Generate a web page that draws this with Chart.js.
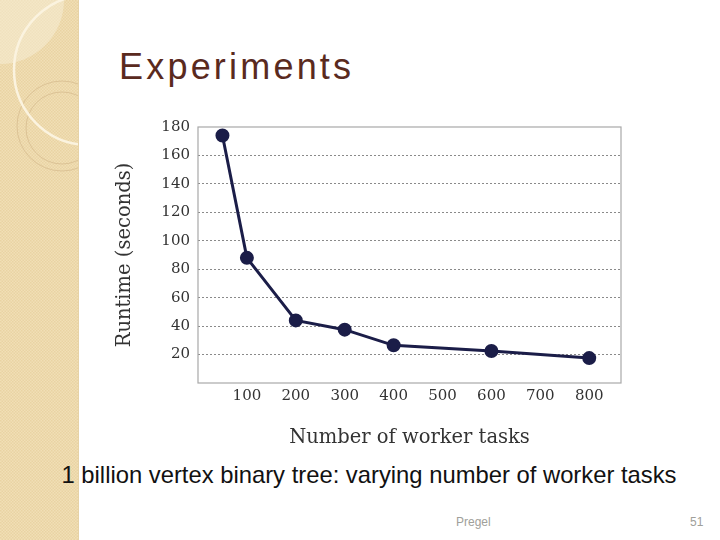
<!DOCTYPE html>
<html>
<head>
<meta charset="utf-8">
<script src="https://cdn.jsdelivr.net/npm/chart.js@4"></script>
<style>
  html, body { margin: 0; padding: 0; background: #fff; }
  #slide { position: relative; width: 720px; height: 540px; overflow: hidden; font-family: "Liberation Sans", Arial, sans-serif; }
  #deco { position: absolute; left: 0; top: 0; }
  #title { position: absolute; left: 119px; top: 46px; font-size: 36px; letter-spacing: 3.2px; color: #5a2a1e; }
  #caption { position: absolute; left: 0; width: 738px; top: 461px; text-align: center; font-size: 23.8px; color: #111; }
  .foot { position: absolute; top: 515px; font-size: 12px; color: #a0a09a; }
  #chartBox { position: absolute; left: 100px; top: 110px; width: 540px; height: 340px; }
</style>
</head>
<body>
<div id="slide">
  <svg id="deco" width="80" height="540">
    <defs>
      <pattern id="chk" width="3" height="3" patternUnits="userSpaceOnUse">
        <rect width="3" height="3" fill="#f1dfb6"/>
        <rect width="1.5" height="1.5" fill="#e9d3a3"/>
        <rect x="1.5" y="1.5" width="1.5" height="1.5" fill="#e9d3a3"/>
      </pattern>
      <clipPath id="strip"><rect width="78" height="540"/></clipPath>
    </defs>
    <rect width="78" height="540" fill="url(#chk)"/>
    <g clip-path="url(#strip)">
      <circle cx="0" cy="0" r="64" fill="#f6ecd6" fill-opacity="0.55"/>
      <circle cx="62" cy="126" r="45" fill="none" stroke="#dcc396" stroke-width="1"/>
      <circle cx="62" cy="128" r="36" fill="none" stroke="#dcc396" stroke-width="1"/>
      <circle cx="89" cy="70" r="75" fill="none" stroke="#fbf3df" stroke-width="2.5"/>
    </g>
    <line x1="78.5" y1="0" x2="78.5" y2="540" stroke="#e6d2a6" stroke-width="1"/>
  </svg>
  <div id="title">Experiments</div>
  <div id="chartBox"><canvas id="myChart" width="540" height="340"></canvas></div>
  <div id="caption">1 billion vertex binary tree: varying number of worker tasks</div>
  <div class="foot" style="left:456px">Pregel</div>
  <div class="foot" style="left:690px">51</div>
</div>
<script>
document.addEventListener("DOMContentLoaded", function () {

  // values
  const workers = [50, 100, 200, 300, 400, 600, 800];
  const runtime = [174, 88, 44, 37.5, 26.5, 22.5, 17.5];

  // tick labels
  const xTicks = [100, 200, 300, 400, 500, 600, 700, 800];
  const yTicks = [0, 20, 40, 60, 80, 100, 120, 140, 160, 180];

  const points = workers.map((w, i) => ({ x: w, y: runtime[i] }));
  const serif = "'DejaVu Serif', 'Liberation Serif', serif";
  const navy = "#1b1d48";

  // grey frame round the plot area
  const frame = {
    id: "frame",
    beforeDatasetsDraw(chart) {
      const a = chart.chartArea;
      const ctx = chart.ctx;
      ctx.save();
      ctx.strokeStyle = "#a8a8a8";
      ctx.lineWidth = 1.2;
      ctx.setLineDash([]);
      ctx.strokeRect(a.left, a.top, a.right - a.left, a.bottom - a.top);
      ctx.restore();
    }
  };

  const ctx = document.getElementById("myChart").getContext("2d");

  new Chart(ctx, {
    type: "line",
    data: {
      datasets: [
        {
          label: "Runtime",
          data: points,
          borderColor: navy,
          backgroundColor: navy,
          borderWidth: 3,
          pointRadius: 5.5,
          pointBackgroundColor: navy,
          pointBorderColor: navy,
          tension: 0,
          fill: false
        }
      ]
    },
    options: {
      responsive: false,
      animation: false,
      layout: { padding: { top: 13, right: 19, left: 0, bottom: 0 } },
      plugins: { legend: { display: false }, tooltip: { enabled: false } },
      scales: {
        x: {
          type: "linear",
          min: 0,
          max: 865,
          afterBuildTicks: s => { s.ticks = xTicks.map(v => ({ value: v })); },
          afterFit: s => { s.height = 67; },
          grid: { display: false, drawTicks: false },
          border: { display: false },
          ticks: {
            padding: 4,
            color: "#333",
            font: { family: serif, size: 15 }
          },
          title: {
            display: true,
            text: "Number of worker tasks",
            color: "#333",
            font: { family: serif, size: 19.5 },
            padding: { top: 4, bottom: 0 }
          }
        },
        y: {
          min: 0,
          max: 180,
          afterBuildTicks: s => { s.ticks = yTicks.map(v => ({ value: v })); },
          afterFit: s => { s.width = 98; },
          grid: {
            drawTicks: false,
            color: c => (c.tick.value > 0 && c.tick.value < 180 ? "#8a8a8a" : "rgba(0,0,0,0)"),
            lineWidth: 1
          },
          border: { display: false, dash: [2, 2] },
          ticks: {
            padding: 8,
            color: "#333",
            font: { family: serif, size: 15 },
            callback: v => (v > 0 ? v : "")
          },
          title: {
            display: true,
            text: "Runtime (seconds)",
            color: "#333",
            font: { family: serif, size: 19.5 },
            padding: { top: 13, bottom: 0 }
          }
        }
      }
    },
    plugins: [frame]
  });

});
</script>
</body>
</html>
